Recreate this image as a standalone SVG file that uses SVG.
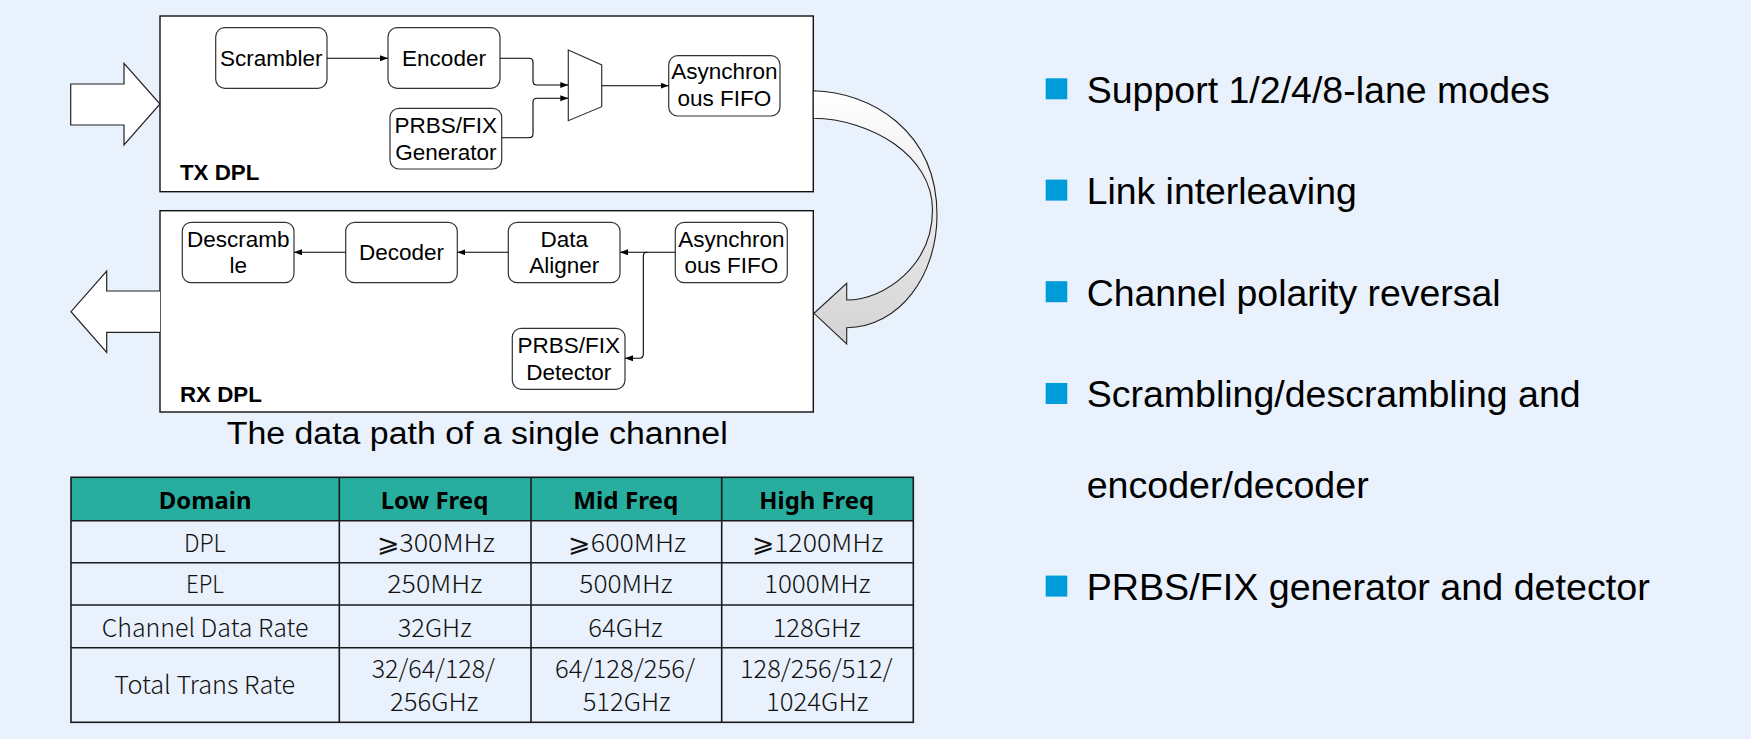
<svg xmlns="http://www.w3.org/2000/svg" width="1751" height="739" viewBox="0 0 1751 739">
  <defs>
    <marker id="ah" markerUnits="userSpaceOnUse" markerWidth="9" markerHeight="7" refX="8" refY="3" orient="auto">
      <path d="M0,0 L8,3 L0,6 z" fill="#000"/>
    </marker>
    <linearGradient id="curveFill" gradientUnits="userSpaceOnUse" x1="0" y1="90" x2="0" y2="340">
      <stop offset="0" stop-color="#ffffff"/>
      <stop offset="1" stop-color="#d4d4d4"/>
    </linearGradient>
    <style>
      .panel { fill: #ffffff; stroke: #111; stroke-width: 1.4; }
      .blk { fill: #ffffff; stroke: #333; stroke-width: 1.2; }
      .bt { font-family: "Liberation Sans", Arial, sans-serif; font-size: 22.5px; fill: #000; text-anchor: middle; }
      .pl { font-family: "Liberation Sans", Arial, sans-serif; font-size: 22.3px; font-weight: bold; fill: #000; }
      .conn { fill: none; stroke: #000; stroke-width: 1.1; }
      .bigarrow { fill: #ffffff; stroke: #222; stroke-width: 1.2; }
      .cap { font-family: "Liberation Sans", Arial, sans-serif; font-size: 31px; fill: #000; }
      .th { font-family: "Noto Sans", "Noto Sans CJK SC", sans-serif; font-size: 23.5px; font-weight: bold; fill: #000; text-anchor: middle; }
      .td { font-family: "Noto Sans CJK SC", "DejaVu Sans", sans-serif; font-size: 25px; font-weight: 300; fill: #111; text-anchor: middle; }
      .grid { stroke: #1a1a1a; stroke-width: 1.6; fill: none; }
      .bul { fill: #009bd9; }
      .bl { font-family: "Liberation Sans", Arial, sans-serif; font-size: 36px; fill: #000; }
    </style>
  </defs>

  <rect x="0" y="0" width="1751" height="739" fill="#e9f1fc"/>

  <!-- TX panel -->
  <g id="tx-panel">
    <rect class="panel" x="160" y="16" width="653.3" height="175.7"/>
    <text class="pl" x="180" y="180">TX DPL</text>
  </g>

  <!-- RX panel -->
  <g id="rx-panel">
    <rect class="panel" x="160" y="210.7" width="653.3" height="201.3"/>
    <text class="pl" x="180" y="402.3">RX DPL</text>
  </g>

  <!-- input / output arrows -->
  <g id="input-arrow">
    <polygon class="bigarrow" points="70.7,84 124,84 124,63.3 160,104 124,145 124,125 70.7,125"/>
  </g>
  <g id="output-arrow">
    <path class="bigarrow" d="M160,291 L106.7,291 L106.7,271 L71,311.7 L106.7,352.3 L106.7,332.3 L160,332.3"/>
  </g>

  <!-- curved arrow TX -> RX -->
  <g id="curved-arrow">
    <path d="M813.3,90.7 C870,92 937,130 937,215 C937,275 900,327 846.7,327.7 L846.7,344 L814,313.3 L846.7,283.3 L846.7,300 C885,300 932.5,265 932.5,210 C932.5,155 870,119 813.3,118.3 Z" fill="url(#curveFill)" stroke="#222" stroke-width="1.1"/>
  </g>

  <!-- TX nodes -->
  <g id="scrambler">
    <rect class="blk" x="215.7" y="27.7" width="111.3" height="60.6" rx="9"/>
    <text class="bt" x="271.3" y="65.5">Scrambler</text>
  </g>
  <g id="encoder">
    <rect class="blk" x="388" y="27.7" width="112" height="60.6" rx="9"/>
    <text class="bt" x="444" y="65.5">Encoder</text>
  </g>
  <g id="prbs-gen">
    <rect class="blk" x="390" y="108.3" width="111.7" height="60.7" rx="9"/>
    <text class="bt" x="445.8" y="133">PRBS/FIX</text>
    <text class="bt" x="445.8" y="160">Generator</text>
  </g>
  <g id="mux">
    <polygon class="blk" points="568.3,50 601.7,65 601.7,106.7 568.3,120.7"/>
  </g>
  <g id="tx-fifo">
    <rect class="blk" x="668.7" y="55.7" width="111.3" height="60.3" rx="9"/>
    <text class="bt" x="724.3" y="78.5">Asynchron</text>
    <text class="bt" x="724.3" y="105.5">ous FIFO</text>
  </g>

  <!-- RX nodes -->
  <g id="descramble">
    <rect class="blk" x="182.3" y="222.3" width="111.7" height="60.4" rx="9"/>
    <text class="bt" x="238.2" y="246.7">Descramb</text>
    <text class="bt" x="238.2" y="273.3">le</text>
  </g>
  <g id="decoder">
    <rect class="blk" x="345.7" y="222.3" width="111.6" height="60.4" rx="9"/>
    <text class="bt" x="401.5" y="260">Decoder</text>
  </g>
  <g id="data-aligner">
    <rect class="blk" x="508.3" y="222.3" width="111.7" height="60.4" rx="9"/>
    <text class="bt" x="564.2" y="246.7">Data</text>
    <text class="bt" x="564.2" y="273.3">Aligner</text>
  </g>
  <g id="rx-fifo">
    <rect class="blk" x="675.3" y="222.3" width="112" height="60.4" rx="9"/>
    <text class="bt" x="731.3" y="246.7">Asynchron</text>
    <text class="bt" x="731.3" y="273.3">ous FIFO</text>
  </g>
  <g id="prbs-det">
    <rect class="blk" x="512.3" y="328.3" width="112.7" height="61" rx="9"/>
    <text class="bt" x="568.7" y="353.3">PRBS/FIX</text>
    <text class="bt" x="568.7" y="380">Detector</text>
  </g>

  <!-- connectors -->
  <g id="connectors">
    <path class="conn" d="M327,58.3 H388" marker-end="url(#ah)"/>
    <path class="conn" d="M500,58.3 H529 Q533,58.3 533,62.3 V81 Q533,85 537,85 H568.3" marker-end="url(#ah)"/>
    <path class="conn" d="M501.7,137.7 H529 Q533,137.7 533,133.7 V102.3 Q533,98.3 537,98.3 H568.3" marker-end="url(#ah)"/>
    <path class="conn" d="M601.7,85.7 H668.7" marker-end="url(#ah)"/>
    <path class="conn" d="M675.3,252.3 H620" marker-end="url(#ah)"/>
    <path class="conn" d="M647.3,252.3 Q643.3,252.3 643.3,256.3 V354.3 Q643.3,358.3 639.3,358.3 H625" marker-end="url(#ah)"/>
    <path class="conn" d="M508.3,252.3 H457.3" marker-end="url(#ah)"/>
    <path class="conn" d="M345.7,252.3 H294" marker-end="url(#ah)"/>
  </g>

  <!-- caption -->
  <text class="cap" x="226.7" y="444.3" textLength="501" lengthAdjust="spacingAndGlyphs">The data path of a single channel</text>

  <!-- table -->
  <g id="table">
    <rect x="71" y="477.3" width="842.3" height="43.4" fill="#27ae9e"/>
    <rect class="grid" x="71" y="477.3" width="842.3" height="245" stroke-width="2"/>
    <path class="grid" d="M71,520.7 H913.3 M71,562.7 H913.3 M71,605 H913.3 M71,647.7 H913.3 M339.3,477.3 V722.3 M531,477.3 V722.3 M721.7,477.3 V722.3"/>
    <text class="th" x="205.2" y="509.3" textLength="92.7" lengthAdjust="spacingAndGlyphs">Domain</text>
    <text class="th" x="434.5" y="509.3" textLength="107.7" lengthAdjust="spacingAndGlyphs">Low Freq</text>
    <text class="th" x="625.8" y="509.3" textLength="105" lengthAdjust="spacingAndGlyphs">Mid Freq</text>
    <text class="th" x="816.7" y="509.3" textLength="114.7" lengthAdjust="spacingAndGlyphs">High Freq</text>

    <text class="td" x="204.8" y="552.3" textLength="41.7" lengthAdjust="spacingAndGlyphs">DPL</text>
    <text class="td" x="435.8" y="552.3" textLength="118.3" lengthAdjust="spacingAndGlyphs">⩾300MHz</text>
    <text class="td" x="627.2" y="552.3" textLength="117.7" lengthAdjust="spacingAndGlyphs">⩾600MHz</text>
    <text class="td" x="817.5" y="552.3" textLength="131.7" lengthAdjust="spacingAndGlyphs">⩾1200MHz</text>

    <text class="td" x="205" y="593.3" textLength="38" lengthAdjust="spacingAndGlyphs">EPL</text>
    <text class="td" x="434.8" y="593.3" textLength="95" lengthAdjust="spacingAndGlyphs">250MHz</text>
    <text class="td" x="626" y="593.3" textLength="93.3" lengthAdjust="spacingAndGlyphs">500MHz</text>
    <text class="td" x="817.3" y="593.3" textLength="106.7" lengthAdjust="spacingAndGlyphs">1000MHz</text>

    <text class="td" x="205" y="636.7" textLength="206.7" lengthAdjust="spacingAndGlyphs">Channel Data Rate</text>
    <text class="td" x="434.7" y="636.7" textLength="74" lengthAdjust="spacingAndGlyphs">32GHz</text>
    <text class="td" x="625.5" y="636.7" textLength="74.3" lengthAdjust="spacingAndGlyphs">64GHz</text>
    <text class="td" x="816.7" y="636.7" textLength="88" lengthAdjust="spacingAndGlyphs">128GHz</text>

    <text class="td" x="204.7" y="694" textLength="180.7" lengthAdjust="spacingAndGlyphs">Total Trans Rate</text>
    <text class="td" x="433.3" y="678.3" textLength="123.3" lengthAdjust="spacingAndGlyphs">32/64/128/</text>
    <text class="td" x="434.2" y="710.7" textLength="88.3" lengthAdjust="spacingAndGlyphs">256GHz</text>
    <text class="td" x="625" y="678.3" textLength="140" lengthAdjust="spacingAndGlyphs">64/128/256/</text>
    <text class="td" x="626.7" y="710.7" textLength="88" lengthAdjust="spacingAndGlyphs">512GHz</text>
    <text class="td" x="816.3" y="678.3" textLength="152.7" lengthAdjust="spacingAndGlyphs">128/256/512/</text>
    <text class="td" x="817.2" y="710.7" textLength="102.3" lengthAdjust="spacingAndGlyphs">1024GHz</text>
  </g>

  <!-- bullets -->
  <g id="bullets">
    <rect class="bul" x="1045.7" y="78.3" width="21.6" height="21"/>
    <text class="bl" x="1086.7" y="102.7" textLength="463" lengthAdjust="spacingAndGlyphs">Support 1/2/4/8-lane modes</text>
    <rect class="bul" x="1045.7" y="179.6" width="21.6" height="21"/>
    <text class="bl" x="1086.7" y="204" textLength="270" lengthAdjust="spacingAndGlyphs">Link interleaving</text>
    <rect class="bul" x="1045.7" y="281.2" width="21.6" height="21"/>
    <text class="bl" x="1086.7" y="305.6" textLength="414" lengthAdjust="spacingAndGlyphs">Channel polarity reversal</text>
    <rect class="bul" x="1045.7" y="383" width="21.6" height="21"/>
    <text class="bl" x="1086.7" y="407.4" textLength="494" lengthAdjust="spacingAndGlyphs">Scrambling/descrambling and</text>
    <text class="bl" x="1086.7" y="498" textLength="282" lengthAdjust="spacingAndGlyphs">encoder/decoder</text>
    <rect class="bul" x="1045.7" y="575.6" width="21.6" height="21"/>
    <text class="bl" x="1086.7" y="600" textLength="563" lengthAdjust="spacingAndGlyphs">PRBS/FIX generator and detector</text>
  </g>
</svg>
